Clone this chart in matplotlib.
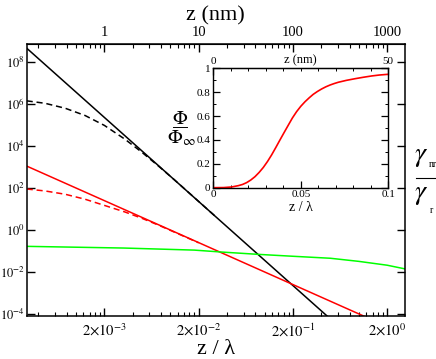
import matplotlib
matplotlib.use('Agg')
import matplotlib.pyplot as plt
from matplotlib.lines import Line2D
from matplotlib.ticker import FixedLocator, NullLocator, NullFormatter, LogLocator, MultipleLocator

plt.rcParams['font.family'] = ['Liberation Serif', 'DejaVu Serif']
plt.rcParams['mathtext.fontset'] = 'stix'

# wavelength used for the top axis (nm)
LAMBDA_NM = 500.0

# main panel, z / lambda on x
black_x = [3.0e-4, 0.5]
black_y = [4.5e8, 5.8e-5]
black_dash_x = [3.0e-4, 4.7e-4, 7.7e-4, 1.25e-3, 2.0e-3, 3.3e-3, 5.0e-3, 7.5e-3, 1.1e-2, 3.0e-2]
black_dash_y = [1.4e6, 1.07e6, 6.2e5, 2.8e5, 9.5e4, 2.1e4, 5.0e3, 1.1e3, 2.5e2, 4.5]
red_x = [3.0e-4, 1.3]
red_y = [1.1e3, 6.0e-5]
red_dash_x = [3.0e-4, 4.7e-4, 7.7e-4, 1.25e-3, 2.0e-3, 3.3e-3, 5.0e-3, 7.5e-3, 2.0e-2]
red_dash_y = [89, 72, 50, 29, 14.8, 7.2, 3.6, 1.7, 0.245]
green_x = [3.0e-4, 3.2e-3, 1.8e-2, 3.5e-2, 8.6e-2, 0.2, 0.5, 1.0, 2.0, 3.1]
green_y = [0.166, 0.138, 0.110, 0.089, 0.069, 0.056, 0.045, 0.032, 0.021, 0.014]

x_ticks = [2e-3, 2e-2, 2e-1, 2e0]
x_labels = [r'$2{\times}10^{-3}$', r'$2{\times}10^{-2}$', r'$2{\times}10^{-1}$', r'$2{\times}10^{0}$']
y_ticks = [1e-4, 1e-2, 1e0, 1e2, 1e4, 1e6, 1e8]
y_labels = [r'$10^{-4}$', r'$10^{-2}$', r'$10^{0}$', r'$10^{2}$', r'$10^{4}$', r'$10^{6}$', r'$10^{8}$']
top_ticks = [1, 10, 100, 1000]
top_labels = ['1', '10', '100', '1000']

# inset: Phi / Phi_inf vs z / lambda
phi_x = [0, 0.006, 0.0105, 0.0143, 0.0167, 0.019, 0.0214, 0.0238, 0.0262, 0.0286, 0.031,
         0.0333, 0.0357, 0.0381, 0.0405, 0.0429, 0.0452, 0.0476, 0.05, 0.0524, 0.0548,
         0.0571, 0.0595, 0.0619, 0.0643, 0.0667, 0.069, 0.0714, 0.076, 0.081, 0.0857,
         0.0905, 0.095, 0.1]
phi_y = [0, 0.001, 0.006, 0.017, 0.027, 0.042, 0.064, 0.092, 0.128, 0.170, 0.220,
         0.274, 0.336, 0.40, 0.463, 0.525, 0.584, 0.637, 0.682, 0.72, 0.753,
         0.782, 0.806, 0.827, 0.845, 0.86, 0.872, 0.883, 0.899, 0.913, 0.925,
         0.936, 0.944, 0.95]

fig = plt.figure(figsize=(4.36, 3.59), dpi=100)
ax = fig.add_axes([0.0612, 0.1206, 0.8677, 0.7582])
ax.set_xscale('log')
ax.set_yscale('log')

lw = 1.1
ax.plot(black_x, black_y, color='black', lw=lw)
ax.plot(black_dash_x, black_dash_y, color='black', lw=lw, dashes=(4, 2.5))
ax.plot(red_x, red_y, color='#ff0000', lw=lw)
ax.plot(red_dash_x, red_dash_y, color='#ff0000', lw=lw, dashes=(4, 2.5))
ax.plot(green_x, green_y, color='#00ff00', lw=lw)

ax.set_xlim(3.0e-4, 3.09)
ax.set_ylim(8.3e-5, 7.5e8)

ax.set_xticks(x_ticks, x_labels)
ax.xaxis.set_minor_locator(FixedLocator([2 * 10.0**n * k for n in range(-5, 1) for k in range(2, 10)]))
ax.xaxis.set_minor_formatter(NullFormatter())
ax.set_yticks(y_ticks, y_labels)
ax.yaxis.set_minor_locator(NullLocator())
ax.tick_params(which='both', direction='in', top=False, right=True)
ax.tick_params(which='major', length=6, width=1)
ax.tick_params(which='minor', length=3, width=0.8)
ax.tick_params(axis='x', pad=5, labelsize=10.5)
ax.tick_params(axis='y', pad=1.5, labelsize=9)
for s in ax.spines.values():
    s.set_linewidth(1.1)

ax.set_xlabel('z / λ', fontsize=16, labelpad=0.5)

top = ax.secondary_xaxis('top', functions=(lambda t: t * LAMBDA_NM, lambda z: z / LAMBDA_NM))
top.set_xticks(top_ticks, top_labels)
top.xaxis.set_minor_locator(LogLocator(base=10, subs=range(2, 10), numticks=20))
top.xaxis.set_minor_formatter(NullFormatter())
top.tick_params(which='both', direction='in', labelsize=10.5, pad=3)
top.tick_params(which='major', length=6, width=1)
top.tick_params(which='minor', length=3, width=0.8)
top.set_xlabel('z (nm)', fontsize=16, labelpad=4)

# right-hand label gamma_nr / gamma_r, drawn as a stacked fraction
fig.text(0.950, 0.563, r'$\gamma$', fontsize=20, ha='left', va='center')
fig.text(0.983, 0.541, 'nr', fontsize=7, ha='left', va='center')
fig.text(0.950, 0.459, r'$\gamma$', fontsize=20, ha='left', va='center')
fig.text(0.985, 0.413, 'r', fontsize=7, ha='left', va='center')
fig.add_artist(Line2D([0.955, 0.998], [0.505, 0.505], transform=fig.transFigure,
                      color='black', lw=0.8))

# inset
axi = fig.add_axes([0.4892, 0.4772, 0.4014, 0.3325])
axi.plot(phi_x, phi_y, color='#ff0000', lw=1.2)
axi.set_xlim(0, 0.1)
axi.set_ylim(0, 1)
axi.set_xticks([0, 0.05, 0.1], ['0', '0.05', '0.1'])
axi.xaxis.set_minor_locator(MultipleLocator(0.01))
axi.set_yticks([0, 0.2, 0.4, 0.6, 0.8, 1.0], ['0', '0.2', '0.4', '0.6', '0.8', '1'])
axi.yaxis.set_minor_locator(MultipleLocator(0.1))
axi.tick_params(which='both', direction='in', top=False, right=True, labelsize=8)
axi.tick_params(which='major', length=5, width=0.9, pad=2)
axi.tick_params(which='minor', length=2.5, width=0.7)
for s in axi.spines.values():
    s.set_linewidth(1.0)
axi.set_xlabel('z / λ', fontsize=10, labelpad=1)

itop = axi.secondary_xaxis('top', functions=(lambda t: t * LAMBDA_NM, lambda z: z / LAMBDA_NM))
itop.set_xticks([0, 50], ['0', '50'])
itop.xaxis.set_minor_locator(MultipleLocator(5))
itop.tick_params(which='both', direction='in', labelsize=8, pad=2)
itop.tick_params(which='major', length=5, width=0.9)
itop.tick_params(which='minor', length=2.5, width=0.7)
axi.text(0.5, 1.015, 'z (nm)', transform=axi.transAxes, ha='center', va='bottom', fontsize=9)

# inset y label Phi / Phi_inf as a stacked fraction
fig.text(0.413, 0.668, r'$\Phi$', fontsize=14, ha='center', va='center')
fig.text(0.417, 0.616, r'$\Phi_{\infty}$', fontsize=14, ha='center', va='center')
fig.add_artist(Line2D([0.397, 0.429], [0.645, 0.645], transform=fig.transFigure,
                      color='black', lw=0.7))

fig.savefig('out.png', dpi=100)
